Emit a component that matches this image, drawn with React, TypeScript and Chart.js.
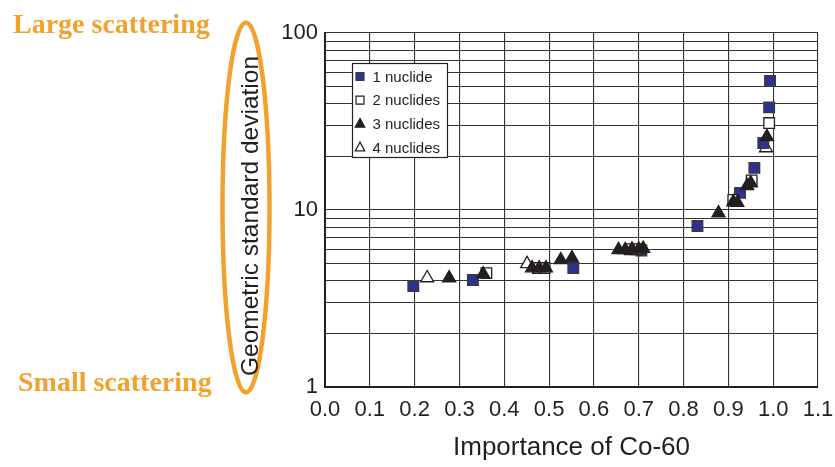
import React, { useEffect, useRef } from 'react';
import { Chart, registerables } from 'chart.js';

Chart.register(...registerables);

// ---- data ----
const seriesLabels = ['1 nuclide', '2 nuclides', '3 nuclides', '4 nuclides'];

const oneNuclideX = [0.197, 0.33, 0.554, 0.706, 0.831, 0.926, 0.958, 0.978, 0.991, 0.993];
const oneNuclideY = [3.72, 4.02, 4.7, 5.9, 8.12, 12.5, 17.3, 23.9, 38.0, 53.6];

const twoNuclidesX = [0.36, 0.475, 0.49, 0.68, 0.695, 0.911, 0.952, 0.991];
const twoNuclidesY = [4.4, 4.7, 4.7, 6.0, 6.0, 11.4, 14.7, 31.0];

const threeNuclidesX = [0.277, 0.353, 0.462, 0.478, 0.493, 0.526, 0.551, 0.655, 0.67, 0.685, 0.7, 0.71, 0.878, 0.911, 0.92, 0.942, 0.95, 0.986];
const threeNuclidesY = [4.13, 4.35, 4.7, 4.7, 4.7, 5.22, 5.35, 5.95, 5.95, 6.0, 6.0, 6.05, 9.6, 11.1, 11.0, 13.7, 14.2, 25.9];

const fourNuclidesX = [0.228, 0.451, 0.984];
const fourNuclidesY = [4.13, 4.96, 22.4];

const yGridValues = [1, 2, 3, 4, 5, 6, 7, 8, 9, 10, 20, 30, 40, 50, 60, 70, 80, 90, 100];
const yLabelValues = [1, 10, 100];
const xMin = 0;
const xMax = 1.1;
const xStep = 0.1;

const xTitle = 'Importance of Co-60';
const yTitle = 'Geometric standard deviation';
const topNote = 'Large scattering';
const bottomNote = 'Small scattering';

// ---- styles ----
const INK = '#231f20';
const BLUE = '#2e3192';
const ORANGE = '#f1a22c';
const GRID = '#333333';
const SANS = '"Liberation Sans", Arial, Helvetica, sans-serif';
const SERIF = '"Liberation Serif", "Times New Roman", serif';

const toPoints = (xs: number[], ys: number[]) => xs.map((x, i) => ({ x, y: ys[i] }));

const overlayPlugin = {
  id: 'overlay',
  afterDraw(chart: any) {
    const ctx = chart.ctx as CanvasRenderingContext2D;
    const area = chart.chartArea;
    ctx.save();

    // orange ellipse around y-axis title
    ctx.strokeStyle = ORANGE;
    ctx.lineWidth = 4.5;
    ctx.beginPath();
    ctx.ellipse(246, 207.5, 23.5, 185, 0, 0, Math.PI * 2);
    ctx.stroke();

    // y title
    ctx.save();
    ctx.translate(251, (area.top + area.bottom) / 2 + 6);
    ctx.rotate(-Math.PI / 2);
    ctx.font = `24.5px ${SANS}`;
    ctx.fillStyle = INK;
    ctx.textAlign = 'center';
    ctx.textBaseline = 'middle';
    ctx.fillText(yTitle, 0, 0);
    ctx.restore();

    // notes
    ctx.font = `bold 28px ${SERIF}`;
    ctx.fillStyle = ORANGE;
    ctx.textAlign = 'left';
    ctx.textBaseline = 'alphabetic';
    ctx.fillText(topNote, 13, 33);
    ctx.fillText(bottomNote, 18, 391);

    // legend box
    const lx = area.left + 27.5;
    const ly = area.top + 30.5;
    const lw = 95;
    const lh = 94;
    ctx.fillStyle = '#ffffff';
    ctx.fillRect(lx, ly, lw, lh);
    ctx.strokeStyle = INK;
    ctx.lineWidth = 1.2;
    ctx.strokeRect(lx, ly, lw, lh);

    const ds = chart.data.datasets;
    ds.forEach((d: any, i: number) => {
      const cy = ly + 13 + i * 23.7;
      const cx = lx + 7.5;
      ctx.fillStyle = d.pointBackgroundColor;
      ctx.strokeStyle = d.pointBorderColor;
      ctx.lineWidth = 1.2;
      ctx.beginPath();
      if (d.pointStyle === 'rect') {
        ctx.rect(cx - 4, cy - 4, 8, 8);
      } else {
        const r = 5.5;
        ctx.moveTo(cx, cy - r);
        ctx.lineTo(cx + r * 0.866, cy + r * 0.5 + 0.5);
        ctx.lineTo(cx - r * 0.866, cy + r * 0.5 + 0.5);
        ctx.closePath();
      }
      ctx.fill();
      ctx.stroke();
      ctx.fillStyle = INK;
      ctx.font = `15px ${SANS}`;
      ctx.textAlign = 'left';
      ctx.textBaseline = 'middle';
      ctx.fillText(d.label, lx + 20, cy + 1);
    });

    ctx.restore();
  },
};

export default function App() {
  const ref = useRef<HTMLCanvasElement | null>(null);

  useEffect(() => {
    if (!ref.current) return;
    const common = { showLine: false, pointBorderWidth: 1.3 };
    const chart = new Chart(ref.current, {
      type: 'scatter',
      data: {
        datasets: [
          {
            ...common,
            label: seriesLabels[0],
            data: toPoints(oneNuclideX, oneNuclideY),
            pointStyle: 'rect',
            pointRadius: 7.5,
            pointBackgroundColor: BLUE,
            pointBorderColor: '#3a3a3a',
            backgroundColor: BLUE,
            borderColor: '#3a3a3a',
            order: 3,
          },
          {
            ...common,
            label: seriesLabels[1],
            data: toPoints(twoNuclidesX, twoNuclidesY),
            pointStyle: 'rect',
            pointRadius: 7.5,
            pointBackgroundColor: '#ffffff',
            pointBorderColor: INK,
            backgroundColor: '#ffffff',
            borderColor: INK,
            order: 2,
          },
          {
            ...common,
            label: seriesLabels[2],
            data: toPoints(threeNuclidesX, threeNuclidesY),
            pointStyle: 'triangle',
            pointRadius: 7.5,
            pointBackgroundColor: INK,
            pointBorderColor: INK,
            backgroundColor: INK,
            borderColor: INK,
            order: 1,
          },
          {
            ...common,
            label: seriesLabels[3],
            data: toPoints(fourNuclidesX, fourNuclidesY),
            pointStyle: 'triangle',
            pointRadius: 7.5,
            pointBackgroundColor: '#ffffff',
            pointBorderColor: INK,
            backgroundColor: '#ffffff',
            borderColor: INK,
            order: 4,
          },
        ],
      },
      options: {
        responsive: false,
        animation: false,
        devicePixelRatio: 1,
        layout: { padding: { left: 0, top: 33, right: 17, bottom: 0 } },
        plugins: {
          legend: { display: false },
          tooltip: { enabled: false },
        },
        scales: {
          x: {
            type: 'linear',
            min: xMin,
            max: xMax,
            afterFit: (s: any) => {
              s.height = 80;
              s.paddingLeft = 0;
              s.paddingRight = 0;
            },
            afterBuildTicks: (s: any) => {
              const t = [];
              for (let i = 0; i <= Math.round((xMax - xMin) / xStep); i++) t.push({ value: +(xMin + i * xStep).toFixed(1) });
              s.ticks = t;
            },
            ticks: {
              color: INK,
              font: { family: SANS, size: 22 },
              padding: 10,
              maxRotation: 0,
              callback: (v: any) => Number(v).toFixed(1),
            },
            grid: { color: GRID, lineWidth: 1.1, drawTicks: false },
            border: { color: INK, width: 2 },
            title: {
              display: true,
              text: xTitle,
              color: INK,
              font: { family: SANS, size: 26, lineHeight: 1.2 },
            },
          },
          y: {
            type: 'logarithmic',
            min: 1,
            max: 100,
            afterFit: (s: any) => {
              s.width = 325;
              s.paddingTop = 0;
              s.paddingBottom = 0;
            },
            afterBuildTicks: (s: any) => {
              s.ticks = yGridValues.map((v) => ({ value: v }));
            },
            ticks: {
              color: INK,
              font: { family: SANS, size: 22 },
              padding: 7,
              autoSkip: false,
              callback: (v: any) => (yLabelValues.includes(Number(v)) ? String(v) : ''),
            },
            grid: { color: GRID, lineWidth: 1.1, drawTicks: false },
            border: { color: INK, width: 2 },
          },
        },
      },
      plugins: [overlayPlugin],
    } as any);
    return () => chart.destroy();
  }, []);

  return (
    <div style={{ position: 'fixed', left: 0, top: 0, width: 835, height: 467, background: '#fff' }}>
      <canvas ref={ref} width={835} height={467} />
    </div>
  );
}
